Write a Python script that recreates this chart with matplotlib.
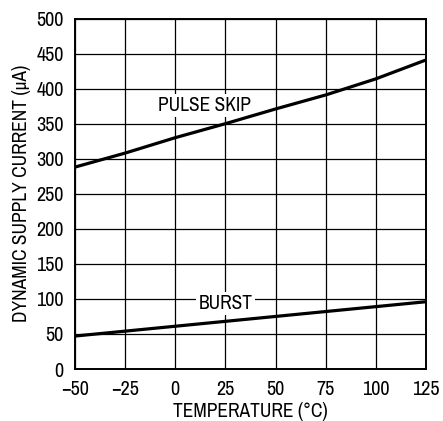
import matplotlib
matplotlib.use('Agg')
import matplotlib.pyplot as plt
from matplotlib import font_manager

# pick a narrow face if one exists, the reference uses a condensed sans
names = sorted(set(f.name for f in font_manager.fontManager.ttflist))
narrow = [n for n in names if 'Narrow' in n or 'Condensed' in n]
plt.rcParams['font.family'] = narrow[:1] + ['DejaVu Sans']
plt.rcParams['font.stretch'] = 'condensed'

# temperature points (deg C) and currents (uA)
temp = [-50, -25, 0, 25, 50, 75, 100, 125]
pulse_skip = [288, 308, 330, 350, 371, 391, 414, 441]
burst = [47, 54, 61, 68, 75, 82, 89, 96]

x_ticks = [-50, -25, 0, 25, 50, 75, 100, 125]
y_ticks = [0, 50, 100, 150, 200, 250, 300, 350, 400, 450, 500]

fig = plt.figure(figsize=(4.43, 4.21), dpi=100)
ax = fig.add_axes([0.169, 0.1235, 0.793, 0.8325])

ax.plot(temp, pulse_skip, color='black', linewidth=2.3, zorder=3)
ax.plot(temp, burst, color='black', linewidth=2.3, zorder=3)

ax.set_xlim(-50, 125)
ax.set_ylim(0, 500)
ax.set_xticks(x_ticks)
ax.set_yticks(y_ticks)
ax.grid(True, color='black', linewidth=0.9)
ax.set_axisbelow(True)
ax.tick_params(length=0, labelsize=14.5)
ax.tick_params(axis='x', pad=8)
ax.tick_params(axis='y', pad=8)
for s in ax.spines.values():
    s.set_linewidth(1.4)
    s.set_zorder(4)

ax.text(14.7, 376, 'PULSE SKIP', fontsize=14, ha='center', va='center', zorder=2,
        bbox=dict(facecolor='white', edgecolor='none', pad=1.5))
ax.text(25, 93, 'BURST', fontsize=14, ha='center', va='center', zorder=2,
        bbox=dict(facecolor='white', edgecolor='none', pad=1.5))

ax.set_xlabel('TEMPERATURE (°C)', fontsize=14, labelpad=2)
ax.set_ylabel('DYNAMIC SUPPLY CURRENT (μA)', fontsize=14, labelpad=4)

fig.savefig('out.png', dpi=100)
